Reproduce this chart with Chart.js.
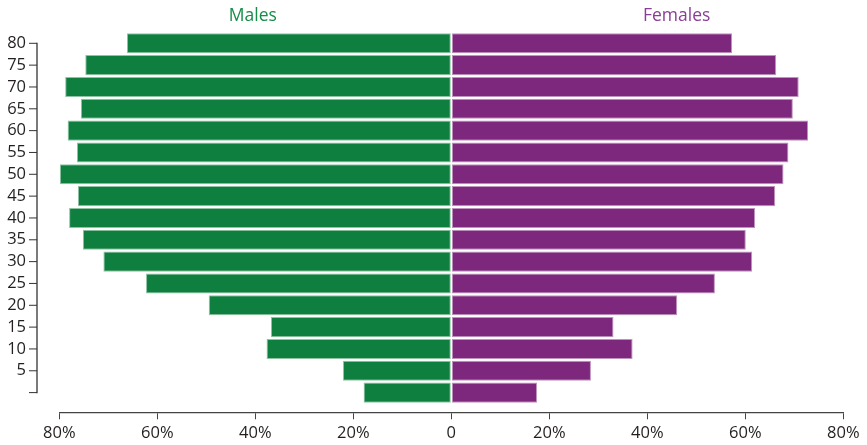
<!DOCTYPE html>
<html>
<head>
<meta charset="utf-8">
<script src="https://cdn.jsdelivr.net/npm/chart.js@4/dist/chart.umd.min.js"></script>
<style>
  html, body { margin: 0; padding: 0; background: #ffffff; }
  #wrap { width: 867px; height: 445px; position: relative; }
</style>
</head>
<body>
<div id="wrap"><canvas id="c" width="867" height="445"></canvas></div>
<script>
// Age groups (bottom tick 0 has no label)
const ages = [80, 75, 70, 65, 60, 55, 50, 45, 40, 35, 30, 25, 20, 15, 10, 5, 0];
// Percent values
const males   = [66.2, 74.7, 78.8, 75.6, 78.3, 76.4, 79.9, 76.2, 78.0, 75.2, 71.0, 62.3, 49.5, 36.8, 37.7, 22.1, 17.9];
const females = [57.3, 66.3, 70.9, 69.7, 72.8, 68.8, 67.8, 66.1, 62.0, 60.1, 61.4, 53.8, 46.1, 33.1, 37.0, 28.5, 17.5];
const xTicks = [-80, -60, -40, -20, 0, 20, 40, 60, 80];
const seriesNames = ['Males', 'Females'];

const GREEN = '#0e7f3e';
const PURPLE = '#7d287c';
const FONT = "'Open Sans', 'Noto Sans', sans-serif";
const TXT = '#231f20';

const detachedAxes = {
  id: 'detachedAxes',
  afterDraw(chart) {
    const ctx = chart.ctx;
    const ys = chart.scales.y;
    const xs = chart.scales.x;
    // vertical axis line, detached from plot area
    const ax = ys.right - 22.3;
    const yTop = ys.getPixelForValue(ages[0]);
    const yBot = ys.getPixelForValue(ages[ages.length - 1]);
    ctx.save();
    ctx.strokeStyle = '#333333';
    ctx.lineWidth = 1.3;
    ctx.beginPath();
    ctx.moveTo(ax, yTop - 0.6);
    ctx.lineTo(ax, yBot + 0.6);
    ctx.stroke();
    ctx.lineWidth = 1;
    ages.forEach(a => {
      const py = ys.getPixelForValue(a);
      ctx.beginPath();
      ctx.moveTo(ax - 8, py);
      ctx.lineTo(ax, py);
      ctx.stroke();
    });
    // series titles
    ctx.font = "17.5px " + FONT;
    ctx.textAlign = 'center';
    ctx.textBaseline = 'alphabetic';
    ctx.fillStyle = '#168c48';
    ctx.fillText(seriesNames[0], xs.getPixelForValue(-40.5), 20.7);
    ctx.fillStyle = '#8a3d96';
    ctx.fillText(seriesNames[1], xs.getPixelForValue(46), 20.7);
    ctx.restore();
  }
};

new Chart(document.getElementById('c'), {
  type: 'bar',
  data: {
    datasets: [
      {
        label: seriesNames[0],
        data: ages.map((a, i) => ({ y: a, x: -males[i] })),
        backgroundColor: GREEN,
        borderColor: '#8fc4a3',
        borderWidth: 1,
        borderSkipped: false,
        grouped: false,
        categoryPercentage: 1,
        barPercentage: 0.92
      },
      {
        label: seriesNames[1],
        data: ages.map((a, i) => ({ y: a, x: females[i] })),
        backgroundColor: PURPLE,
        borderColor: '#bf93be',
        borderWidth: 1,
        borderSkipped: false,
        grouped: false,
        categoryPercentage: 1,
        barPercentage: 0.92
      }
    ]
  },
  options: {
    indexAxis: 'y',
    responsive: false,
    animation: false,
    layout: { padding: { top: 32, right: 23.7, bottom: 0, left: 0 } },
    plugins: {
      legend: { display: false },
      title: { display: false },
      tooltip: { enabled: false }
    },
    scales: {
      x: {
        type: 'linear',
        min: -80,
        max: 80,
        offset: false,
        afterBuildTicks: s => { s.ticks = xTicks.map(v => ({ value: v })); },
        afterFit: s => { s.height = 32.7; s.paddingLeft = 0; s.paddingRight = 0; s.paddingTop = 0; s.paddingBottom = 0; },
        border: { display: true, color: '#444444', width: 1.3 },
        grid: { display: true, offset: false, drawOnChartArea: false, drawTicks: true, tickLength: 7, color: '#444444', tickWidth: 1 },
        ticks: {
          padding: 4,
          maxRotation: 0,
          autoSkip: false,
          color: TXT,
          font: { family: FONT, size: 16.5 },
          callback: v => v === 0 ? '0' : Math.abs(v) + '%'
        }
      },
      y: {
        type: 'linear',
        min: -4.51,
        max: 82.59,
        offset: false,
        afterFit: s => { s.width = 59.3; s.paddingTop = 0; s.paddingBottom = 0; s.paddingLeft = 0; s.paddingRight = 0; },
        border: { display: false },
        grid: { display: false, offset: false, drawTicks: false },
        ticks: {
          stepSize: 5,
          includeBounds: false,
          padding: 33.3,
          color: TXT,
          font: { family: FONT, size: 16.5 },
          callback: v => v === 0 ? '' : String(v)
        }
      }
    }
  },
  plugins: [detachedAxes]
});
</script>
</body>
</html>
